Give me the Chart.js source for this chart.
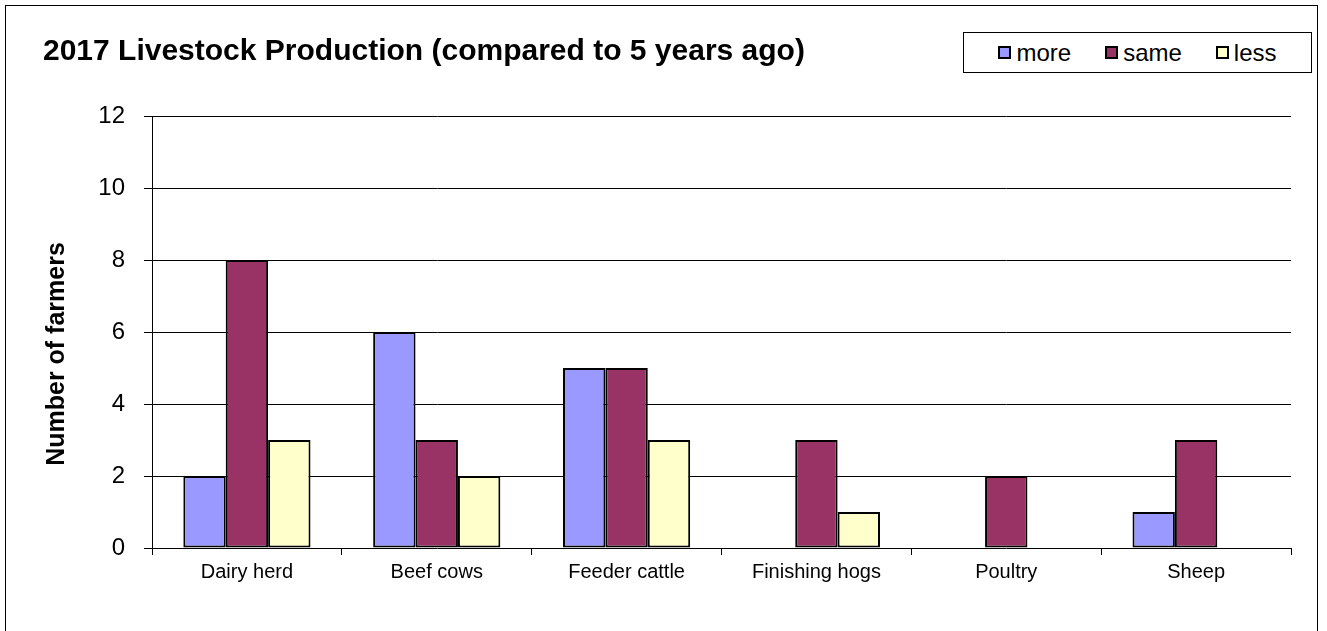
<!DOCTYPE html>
<html>
<head>
<meta charset="utf-8">
<title>2017 Livestock Production</title>
<script src="https://cdn.jsdelivr.net/npm/chart.js@4.4.1/dist/chart.umd.min.js"></script>
<style>
    body { margin: 0; background: #fff; overflow: hidden; font-family: Arial, "Liberation Sans", sans-serif; }
    #wrap { position: relative; width: 1327px; height: 631px; }
    #frame { position: absolute; left: 5px; top: 5px; width: 1313px; height: 660px; border: 1px solid #000; box-sizing: border-box; }
    #chart { position: absolute; left: 0; top: 0; }
    #legend {
        position: absolute; left: 963px; top: 32px; width: 349px; height: 41px;
        border: 1px solid #000; box-sizing: border-box; background: #fff;
        display: flex; align-items: center; justify-content: center; gap: 34px;
        font-size: 24px; line-height: 24px; color: #000;
    }
    .legend-item { display: flex; align-items: center; }
    .swatch { width: 13px; height: 13px; border: 2px solid #000; box-sizing: border-box; margin-right: 5px; }
</style>
</head>
<body>
<div id="wrap">
    <div id="frame"></div>
    <canvas id="chart" width="1327" height="631"></canvas>
    <div id="legend"></div>
</div>
<script>
// Chart values
const chartTitle = '2017 Livestock Production (compared to 5 years ago)';
const yAxisTitle = 'Number of farmers';
const categories = ['Dairy herd', 'Beef cows', 'Feeder cattle', 'Finishing hogs', 'Poultry', 'Sheep'];
const seriesNames = ['more', 'same', 'less'];
const moreValues = [2, 6, 5, 0, 0, 1];
const sameValues = [8, 3, 5, 3, 2, 3];
const lessValues = [3, 2, 3, 1, 0, 0];
const yTicks = [0, 2, 4, 6, 8, 10, 12];

const fontFamily = 'Arial, "Liberation Sans", sans-serif';
const seriesColors = ['#9999FF', '#993366', '#FFFFCC'];

// Title and rotated axis title, placed like the original
const titlesPlugin = {
    id: 'titles',
    afterDraw(chart) {
        const ctx = chart.ctx;
        const area = chart.chartArea;
        ctx.save();
        ctx.fillStyle = '#000';
        ctx.font = 'bold 30px ' + fontFamily;
        ctx.textAlign = 'left';
        ctx.textBaseline = 'alphabetic';
        ctx.fillText(chartTitle, 43, 60);

        ctx.translate(64, (area.top + area.bottom) / 2 + 22);
        ctx.rotate(-Math.PI / 2);
        ctx.font = 'bold 25px ' + fontFamily;
        ctx.textAlign = 'center';
        ctx.fillText(yAxisTitle, 0, 0);
        ctx.restore();
    }
};

const datasets = [moreValues, sameValues, lessValues].map((values, i) => ({
    label: seriesNames[i],
    data: values,
    backgroundColor: seriesColors[i],
    borderColor: '#000',
    borderWidth: 2,
    borderSkipped: false,
    categoryPercentage: 0.67,
    barPercentage: 1.0
}));

const chart = new Chart(document.getElementById('chart'), {
    type: 'bar',
    data: { labels: categories, datasets: datasets },
    options: {
        responsive: false,
        animation: false,
        devicePixelRatio: 1,
        layout: { padding: { top: 116, right: 36, bottom: 0, left: 0 } },
        plugins: {
            legend: { display: false },
            tooltip: { enabled: false },
            title: { display: false }
        },
        scales: {
            x: {
                grid: { display: true, drawOnChartArea: false, drawTicks: true, tickLength: 7, color: '#000', offset: true },
                border: { display: false },
                ticks: { color: '#000', font: { family: fontFamily, size: 20 }, padding: 5, maxRotation: 0 },
                afterFit: scale => { scale.height = 83; }
            },
            y: {
                min: yTicks[0],
                max: yTicks[yTicks.length - 1],
                ticks: { stepSize: yTicks[1] - yTicks[0], color: '#000', font: { family: fontFamily, size: 24 }, padding: 19 },
                grid: { color: '#000', lineWidth: 1, tickLength: 8 },
                border: { display: true, color: '#000', width: 1 },
                afterFit: scale => { scale.width = 152; }
            }
        }
    },
    plugins: [titlesPlugin]
});

// Boxed legend in the top right corner
function buildLegend(chart) {
    const box = document.getElementById('legend');
    box.innerHTML = '';
    chart.data.datasets.forEach(ds => {
        const item = document.createElement('div');
        item.className = 'legend-item';
        item.innerHTML = `<span class="swatch" style="background:${ds.backgroundColor}"></span><span>${ds.label}</span>`;
        box.appendChild(item);
    });
}
buildLegend(chart);
</script>
</body>
</html>
